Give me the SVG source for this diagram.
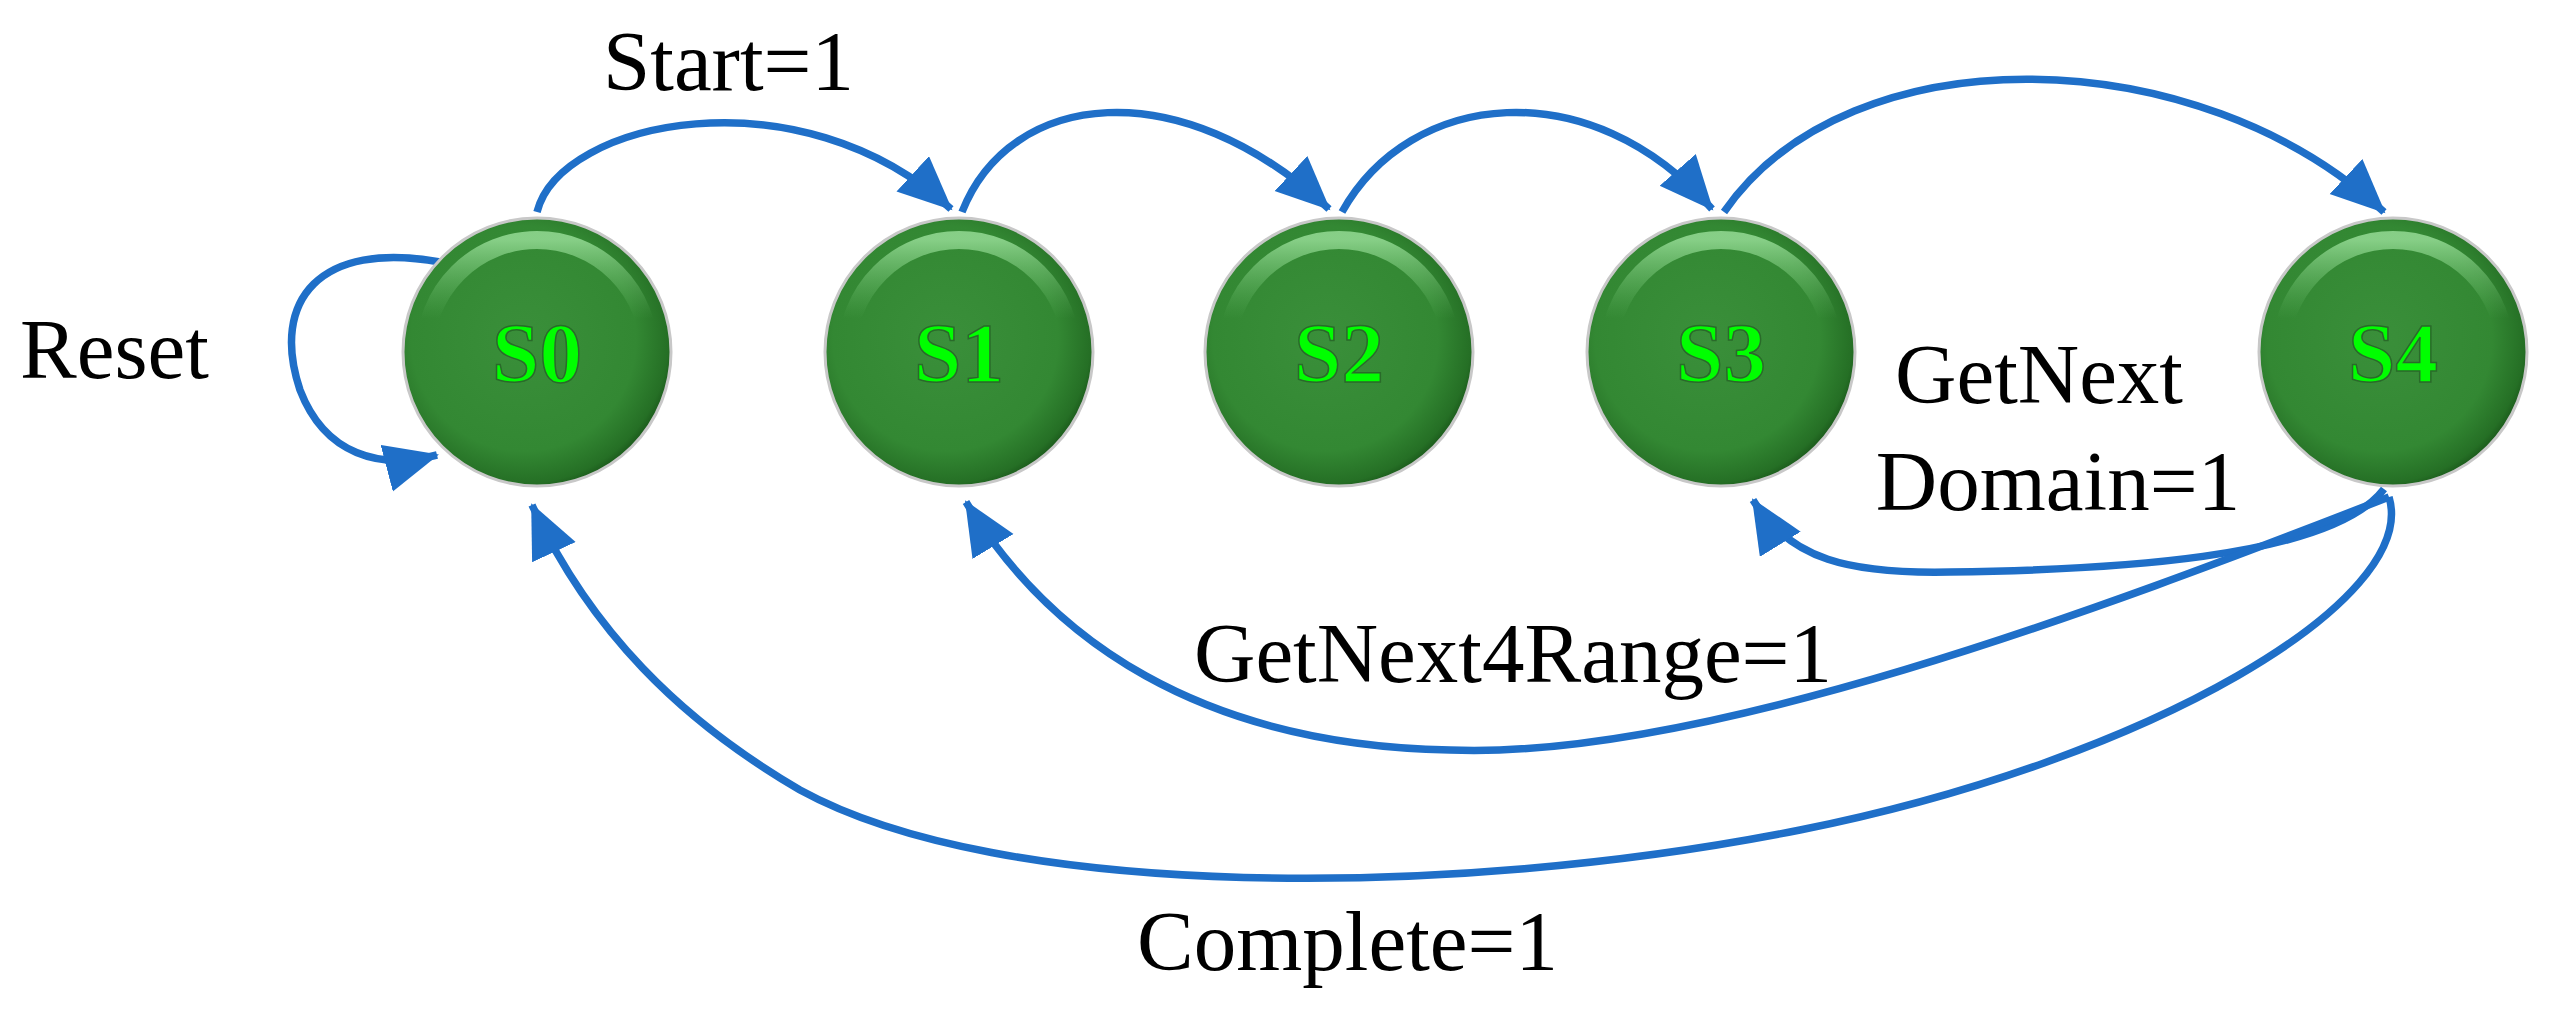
<svg xmlns="http://www.w3.org/2000/svg" width="2557" height="1022" viewBox="0 0 2557 1022">
<style>
.e{fill:none;stroke:#1f6fc8;stroke-width:7.5;marker-end:url(#ah)}
.t{font-family:"Liberation Serif",serif;font-size:85px;fill:#000}
.n{font-family:"Liberation Serif",serif;font-size:85px;font-weight:bold;fill:#00ff00;stroke:#2a6a2a;stroke-width:1.5;text-anchor:middle}
</style>
<defs>
<marker id="ah" markerUnits="userSpaceOnUse" markerWidth="60" markerHeight="50" refX="52" refY="24" orient="auto"><path d="M0,0 L54,24 L0,48 Z" fill="#1f6fc8"/></marker>
<radialGradient id="g" cx="0.45" cy="0.45" r="0.6">
<stop offset="0" stop-color="#3a8f3a"/><stop offset="0.7" stop-color="#338833"/><stop offset="0.9" stop-color="#256f25"/><stop offset="1" stop-color="#124512"/></radialGradient>
<linearGradient id="hl" x1="0" y1="0" x2="0" y2="1"><stop offset="0" stop-color="#9be09b" stop-opacity="0.8"/><stop offset="0.35" stop-color="#6cbf6c" stop-opacity="0"/></linearGradient>
</defs>
<g id="edges">
<path class="e" d="M440,262 C320,240 270,300 300,390 C325,455 380,470 437,455"/>
<path class="e" d="M537,212 C560,120 800,70 951,209"/>
<path class="e" d="M962,212 C1010,90 1180,70 1329,209"/>
<path class="e" d="M1342,212 C1410,90 1590,70 1712,209"/>
<path class="e" d="M1724,212 C1850,30 2200,40 2384,212"/>
<path class="e" d="M2384,489 C2330,560 2100,570 1950,572 C1850,574 1790,560 1753,500"/>
<path class="e" d="M2389,497 C2100,610 1700,760 1450,750 C1200,745 1050,640 966,502"/>
<path class="e" d="M2389,497 C2420,600 2150,760 1800,830 C1450,900 1000,900 800,790 C680,720 590,630 532,505"/>
</g>
<g id="S0"><circle cx="537" cy="352" r="134" fill="url(#g)" stroke="#c8c8c8" stroke-width="3"/><circle cx="537" cy="352" r="112" fill="none" stroke="url(#hl)" stroke-width="18"/><text class="n" x="537" y="382">S0</text></g>
<g id="S1"><circle cx="959" cy="352" r="134" fill="url(#g)" stroke="#c8c8c8" stroke-width="3"/><circle cx="959" cy="352" r="112" fill="none" stroke="url(#hl)" stroke-width="18"/><text class="n" x="959" y="382">S1</text></g>
<g id="S2"><circle cx="1339" cy="352" r="134" fill="url(#g)" stroke="#c8c8c8" stroke-width="3"/><circle cx="1339" cy="352" r="112" fill="none" stroke="url(#hl)" stroke-width="18"/><text class="n" x="1339" y="382">S2</text></g>
<g id="S3"><circle cx="1721" cy="352" r="134" fill="url(#g)" stroke="#c8c8c8" stroke-width="3"/><circle cx="1721" cy="352" r="112" fill="none" stroke="url(#hl)" stroke-width="18"/><text class="n" x="1721" y="382">S3</text></g>
<g id="S4"><circle cx="2393" cy="352" r="134" fill="url(#g)" stroke="#c8c8c8" stroke-width="3"/><circle cx="2393" cy="352" r="112" fill="none" stroke="url(#hl)" stroke-width="18"/><text class="n" x="2393" y="382">S4</text></g>
<g id="labels">
<text class="t" x="20" y="378">Reset</text>
<text class="t" x="603" y="90">Start=1</text>
<text class="t" x="2039" y="403" text-anchor="middle">GetNext</text>
<text class="t" x="2058" y="510" text-anchor="middle">Domain=1</text>
<text class="t" x="1194" y="682">GetNext4Range=1</text>
<text class="t" x="1137" y="970">Complete=1</text>
</g>
</svg>
